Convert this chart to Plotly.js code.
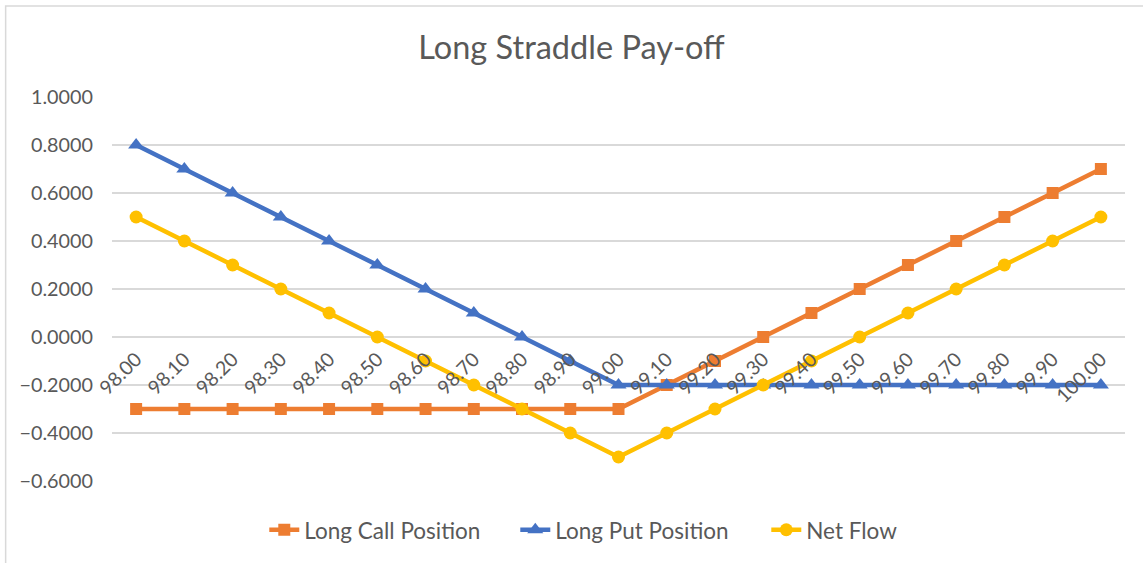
<!DOCTYPE html>
<html>
<head>
<meta charset="utf-8">
<script src="https://cdn.plot.ly/plotly-3.0.1.min.js"></script>
<style>html,body{margin:0;padding:0;background:#fff;}#chart{width:1143px;height:563px;}</style>
</head>
<body>
<div id="chart"></div>
<script>
const categories = ["98.00","98.10","98.20","98.30","98.40","98.50","98.60","98.70","98.80","98.90","99.00","99.10","99.20","99.30","99.40","99.50","99.60","99.70","99.80","99.90","100.00"];
const longCall = [-0.3,-0.3,-0.3,-0.3,-0.3,-0.3,-0.3,-0.3,-0.3,-0.3,-0.3,-0.2,-0.1,0.0,0.1,0.2,0.3,0.4,0.5,0.6,0.7];
const longPut = [0.8,0.7,0.6,0.5,0.4,0.3,0.2,0.1,0.0,-0.1,-0.2,-0.2,-0.2,-0.2,-0.2,-0.2,-0.2,-0.2,-0.2,-0.2,-0.2];
const netFlow = [0.5,0.4,0.3,0.2,0.1,0.0,-0.1,-0.2,-0.3,-0.4,-0.5,-0.4,-0.3,-0.2,-0.1,0.0,0.1,0.2,0.3,0.4,0.5];
const yTicks = [-0.6,-0.4,-0.2,0,0.2,0.4,0.6,0.8,1.0];

const font = "Lato, 'Open Sans', sans-serif";
const traces = [
  {x: categories, y: longCall, name: "Long Call Position", type: "scatter", mode: "lines+markers",
   line: {color: "#ED7D31", width: 4.5}, marker: {symbol: "square", size: 12, color: "#ED7D31"}},
  {x: categories, y: longPut, name: "Long Put Position", type: "scatter", mode: "lines+markers",
   line: {color: "#4472C4", width: 4.5}, marker: {symbol: "triangle-up", size: 14, color: "#4472C4"}},
  {x: categories, y: netFlow, name: "Net Flow", type: "scatter", mode: "lines+markers",
   line: {color: "#FFC000", width: 4.5}, marker: {symbol: "circle", size: 13, color: "#FFC000"}}
];
const layout = {
  width: 1143, height: 563,
  margin: {l: 112, r: 18, t: 97, b: 81},
  paper_bgcolor: "#fff", plot_bgcolor: "#fff",
  font: {family: font, color: "#595959", size: 18},
  title: {text: "Long Straddle Pay-off", font: {family: font, size: 32.5, color: "#595959"}, x: 0.5, xanchor: "center", y: 0.915, yanchor: "middle"},
  xaxis: {type: "category", range: [-0.5, 20.5], anchor: "free", position: 0.375,
    tickangle: -45, showgrid: false, zeroline: false, showline: false, ticks: "",
    ticklabelstandoff: 6,
    tickfont: {family: font, size: 19.5, color: "#595959"}, fixedrange: true},
  yaxis: {range: [-0.6, 1.0], tickvals: yTicks, tickformat: ".4f", showgrid: true,
    gridcolor: "#D9D9D9", gridwidth: 2, zeroline: false, showline: false, ticks: "",
    ticklabelstandoff: 18,
    tickfont: {family: font, size: 19.8, color: "#595959"}, fixedrange: true},
  showlegend: true,
  legend: {orientation: "h", x: 0.522, xanchor: "center", y: -0.125, yanchor: "middle",
    entrywidth: 206, entrywidthmode: "pixels",
    font: {family: font, size: 22.5, color: "#595959"}, traceorder: "normal"},
  shapes: [{type: "rect", xref: "paper", yref: "paper", x0: -0.105, x1: 1.2, y0: -0.5, y1: 1.237,
    line: {color: "#D9D9D9", width: 1.5}, fillcolor: "rgba(0,0,0,0)", layer: "below"}]
};
Plotly.newPlot("chart", traces, layout, {displayModeBar: false, staticPlot: true});
</script>
</body>
</html>
